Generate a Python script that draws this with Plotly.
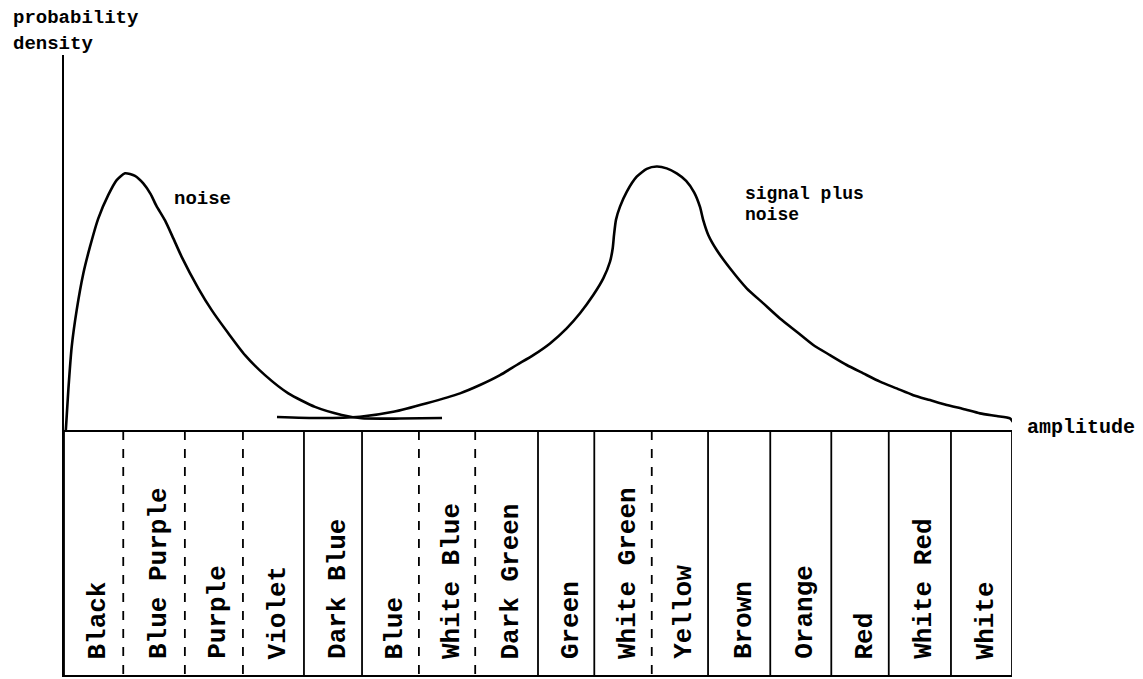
import plotly.graph_objects as go

# ---- data ----
color_bands = ["Black", "Blue Purple", "Purple", "Violet", "Dark Blue", "Blue",
               "White Blue", "Dark Green", "Green", "White Green", "Yellow",
               "Brown", "Orange", "Red", "White Red", "White"]
band_edges = [0, 1.0, 2.04, 3.02, 4.05, 5.03, 5.99, 6.94, 8.0, 8.95, 9.92,
              10.87, 11.92, 12.95, 13.92, 14.97, 16.0]
edge_dashed = [False, True, True, True, False, False, True, True, False, False,
               True, False, False, False, False, False, False]

noise_amp = [0.03, 0.073, 0.130, 0.214, 0.326, 0.439, 0.579, 0.748, 0.889, 1.030,
             1.198, 1.338, 1.460, 1.560, 1.705, 1.845, 1.986, 2.267, 2.493, 2.773,
             3.055, 3.392, 3.786, 4.236, 4.687, 5.024, 5.671, 6.380]
noise_den = [0.0, 0.158, 0.324, 0.465, 0.606, 0.709, 0.818, 0.908, 0.965, 0.991,
             0.981, 0.952, 0.912, 0.866, 0.810, 0.741, 0.670, 0.549, 0.465, 0.376,
             0.292, 0.215, 0.145, 0.093, 0.062, 0.049, 0.048, 0.050]

signal_amp = [3.595, 4.321, 4.996, 5.558, 6.122, 6.684, 7.021, 7.359, 7.641, 7.921,
              8.203, 8.484, 8.709, 8.933, 9.102, 9.215, 9.261, 9.283, 9.316, 9.384,
              9.497, 9.666, 9.835, 10.003, 10.172, 10.341, 10.500, 10.635, 10.734,
              10.790, 10.874, 11.016, 11.240, 11.522, 11.803, 12.084, 12.366, 12.646,
              12.928, 13.210, 13.490, 13.772, 14.054, 14.334, 14.616, 14.898, 15.178,
              15.460, 15.742, 15.966, 16.017]
signal_den = [0.054, 0.050, 0.055, 0.074, 0.107, 0.145, 0.177, 0.215, 0.254, 0.292,
              0.337, 0.395, 0.453, 0.523, 0.587, 0.651, 0.703, 0.754, 0.812, 0.863,
              0.920, 0.978, 1.008, 1.017, 1.010, 0.991, 0.962, 0.918, 0.862,
              0.810, 0.754, 0.696, 0.626, 0.549, 0.491, 0.433, 0.382, 0.331,
              0.292, 0.254, 0.222, 0.190, 0.164, 0.138, 0.119, 0.100, 0.085,
              0.068, 0.058, 0.049, 0.035]

Y_MIN, Y_MAX = -0.938, 1.446
FONT = "Liberation Mono, Courier New, monospace"
W, H = 1135, 671           # page body adds an 8px margin
ML, MT = 56, 47
PLOT_W = 948
MR = W - ML - PLOT_W
PLOT_H = 620
MB = H - MT - PLOT_H

fig = go.Figure()

# noise and signal+noise density curves
for xs, ys in ((noise_amp, noise_den), (signal_amp, signal_den)):
    fig.add_trace(go.Scatter(x=xs, y=ys, mode="lines",
                             line=dict(color="black", width=2.6, shape="spline", smoothing=0.6),
                             cliponaxis=False, showlegend=False, hoverinfo="skip"))

# band dividers below the amplitude axis
for e, dashed in zip(band_edges, edge_dashed):
    fig.add_trace(go.Scatter(x=[e, e], y=[0, Y_MIN], mode="lines",
                             line=dict(color="black", width=1.8,
                                       dash="dash" if dashed else "solid"),
                             cliponaxis=False, showlegend=False, hoverinfo="skip"))

def fx(u):   # amplitude value -> paper x
    return u / 16.0

def fy(d):   # density value -> paper y
    return (d - Y_MIN) / (Y_MAX - Y_MIN)

bold = lambda s: "<b>" + s + "</b>"

annotations = []
for i, name in enumerate(color_bands):
    xc = (band_edges[i] + band_edges[i + 1]) / 2 + 0.08
    annotations.append(dict(x=xc, y=-0.885, xref="x", yref="y", text=bold(name),
                            textangle=-90, showarrow=False, xanchor="center",
                            yanchor="bottom", font=dict(family=FONT, size=26, color="black")))

annotations += [
    dict(x=fx(-0.895), y=fy(1.588), xref="paper", yref="paper", text=bold("probability"),
         showarrow=False, xanchor="left", yanchor="middle",
         font=dict(family=FONT, size=19, color="black")),
    dict(x=fx(-0.895), y=fy(1.490), xref="paper", yref="paper", text=bold("density"),
         showarrow=False, xanchor="left", yanchor="middle",
         font=dict(family=FONT, size=19, color="black")),
    dict(x=fx(1.82), y=fy(0.893), xref="paper", yref="paper", text=bold("noise"), showarrow=False,
         xanchor="left", yanchor="middle", font=dict(family=FONT, size=19, color="black")),
    dict(x=fx(11.46), y=fy(0.912), xref="paper", yref="paper", text=bold("signal plus"),
         showarrow=False, xanchor="left", yanchor="middle",
         font=dict(family=FONT, size=18, color="black")),
    dict(x=fx(11.46), y=fy(0.831), xref="paper", yref="paper", text=bold("noise"),
         showarrow=False, xanchor="left", yanchor="middle",
         font=dict(family=FONT, size=18, color="black")),
    dict(x=fx(16.22), y=fy(0.013), xref="paper", yref="paper", text=bold("amplitude"),
         showarrow=False, xanchor="left", yanchor="middle",
         font=dict(family=FONT, size=20, color="black")),
    dict(x=16.05, y=0, xref="x", yref="y", ax=-14, ay=0, text="", showarrow=True,
         arrowhead=2, arrowsize=1, arrowwidth=2, arrowcolor="black"),
]

fig.update_layout(
    width=W, height=H, autosize=False,
    margin=dict(l=ML, r=MR, t=MT, b=MB, pad=0),
    paper_bgcolor="white", plot_bgcolor="white",
    annotations=annotations,
    xaxis=dict(range=[0, 16], showgrid=False, zeroline=False, showticklabels=False,
               ticks="", showline=True, linecolor="black", linewidth=2, fixedrange=True),
    yaxis=dict(range=[Y_MIN, Y_MAX], showgrid=False, zeroline=True, zerolinecolor="black",
               zerolinewidth=2, showticklabels=False, ticks="", showline=True,
               linecolor="black", linewidth=2, fixedrange=True),
)

fig.write_html("out.html")
